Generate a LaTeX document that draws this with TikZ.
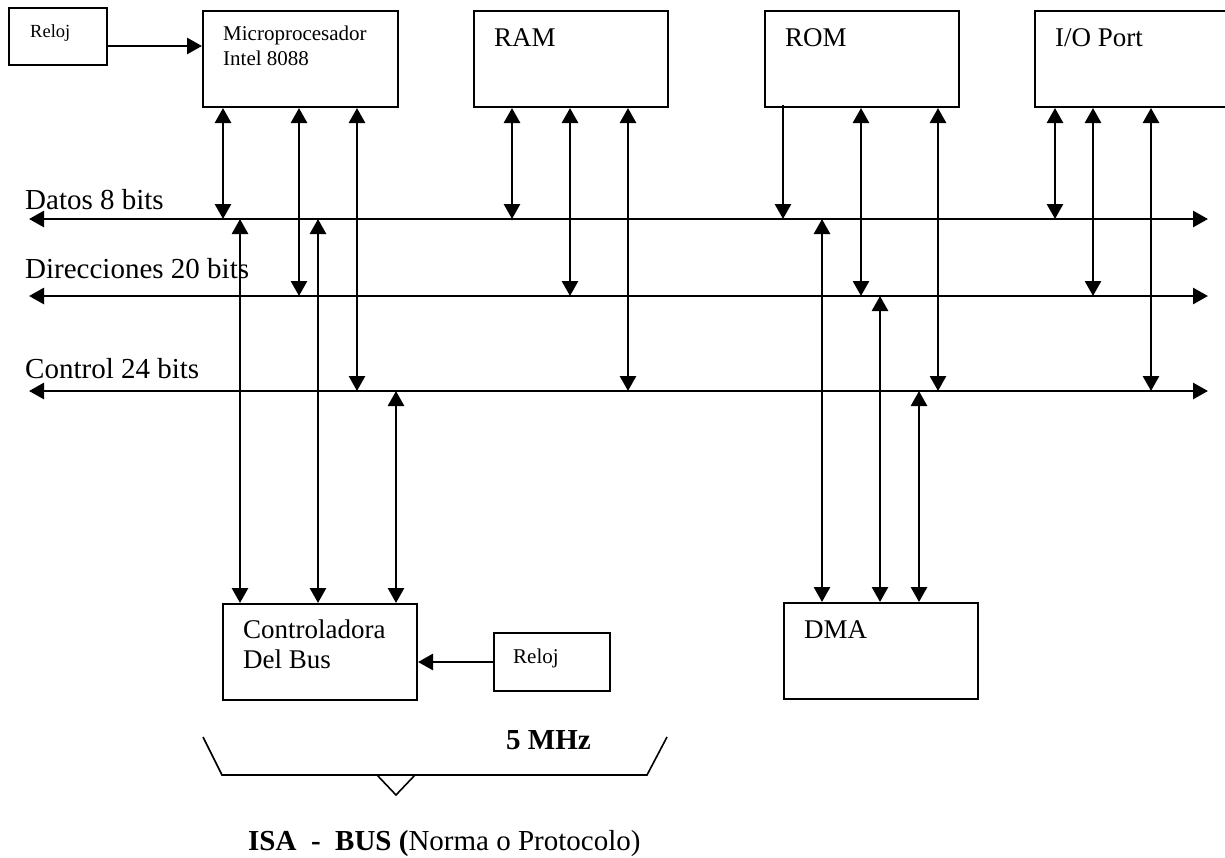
\documentclass[tikz,border=0pt]{standalone}
\usepackage{fontspec}
\setmainfont{Liberation Serif}
\usetikzlibrary{arrows.meta}
\begin{document}
\begin{tikzpicture}[x=1pt,y=-1pt,
  box/.style={draw, line width=2pt, inner sep=0pt, anchor=north west},
  tip/.tip={Triangle[width=16pt,length=15pt]},
  bi/.style={tip-tip, line width=2.8pt},
  one/.style={-tip, line width=2.8pt},
  txt/.style={anchor=base west, inner sep=0pt},
  big/.style={font=\fontsize{29}{32}\selectfont},
  mid/.style={font=\fontsize{27}{30}\selectfont},
  sml/.style={font=\fontsize{21}{24}\selectfont},
  tiny/.style={font=\fontsize{18.5}{21}\selectfont}]
\useasboundingbox (0,0) rectangle (1225,857);

% boxes
\node[box, minimum width=98pt, minimum height=57pt] (reloj1) at (8,7) {};
\node[box, minimum width=195pt, minimum height=96pt] (micro) at (202,10) {};
\node[box, minimum width=194pt, minimum height=96pt] (ram) at (473,10) {};
\node[box, minimum width=194pt, minimum height=96pt] (rom) at (764,10) {};
\node[box, minimum width=200pt, minimum height=96pt] (io) at (1034,10) {};
\node[box, minimum width=194pt, minimum height=96pt] (ctrl) at (222,603) {};
\node[box, minimum width=116pt, minimum height=58pt] (reloj2) at (493,632) {};
\node[box, minimum width=194pt, minimum height=96pt] (dma) at (783,602) {};

% box texts
\node[txt, tiny] (treloj1) at (30,37) {Reloj};
\node[txt, sml] (tmicroA) at (223,40) {Microprocesador};
\node[txt, sml] (tmicroB) at (223,65) {Intel 8088};
\node[txt, mid] (tram) at (494,46) {RAM};
\node[txt, mid] (trom) at (785,46) {ROM};
\node[txt, mid] (tio) at (1055,46) {I/O Port};
\node[txt, mid] (tctrlA) at (243,638) {Controladora};
\node[txt, mid] (tctrlB) at (243,668) {Del Bus};
\node[txt, sml] (treloj2) at (513,663) {Reloj};
\node[txt, mid] (tdma) at (804,638) {DMA};

% bus labels
\node[txt, big] (ldat) at (25,209) {Datos 8 bits};
\node[txt, big] (ldir) at (25,278) {Direcciones 20 bits};
\node[txt, big] (lctl) at (25,378) {Control 24 bits};

% buses
\coordinate (datL) at (29,219);  \coordinate (datR) at (1208,219);
\coordinate (dirL) at (29,296);  \coordinate (dirR) at (1208,296);
\coordinate (ctlL) at (29,391);  \coordinate (ctlR) at (1208,391);
\draw[bi] (datL) -- (datR);
\draw[bi] (dirL) -- (dirR);
\draw[bi] (ctlL) -- (ctlR);

% clock arrows
\coordinate (clk1) at (0,46);
\draw[one] (reloj1.east |- clk1) -- (micro.west |- clk1);
\draw[one] (reloj2.west) -- (ctrl.east |- reloj2.west);

% x positions
\coordinate (m1) at (223,0); \coordinate (m2) at (299,0); \coordinate (m3) at (357,0);
\coordinate (r1) at (512,0); \coordinate (r2) at (570,0); \coordinate (r3) at (628,0);
\coordinate (o1) at (783,0); \coordinate (o2) at (861,0); \coordinate (o3) at (938,0);
\coordinate (p1) at (1055,0); \coordinate (p2) at (1093,0); \coordinate (p3) at (1151,0);
\coordinate (c1) at (240,0); \coordinate (c2) at (318,0); \coordinate (c3) at (396,0);
\coordinate (d1) at (822,0); \coordinate (d2) at (880,0); \coordinate (d3) at (919,0);

% microprocessor
\draw[bi] (m1 |- micro.south) -- (m1 |- datL);
\draw[bi] (m2 |- micro.south) -- (m2 |- dirL);
\draw[bi] (m3 |- micro.south) -- (m3 |- ctlL);
% RAM
\draw[bi] (r1 |- ram.south) -- (r1 |- datL);
\draw[bi] (r2 |- ram.south) -- (r2 |- dirL);
\draw[bi] (r3 |- ram.south) -- (r3 |- ctlL);
% ROM
\draw[one] ([yshift=3pt]o1 |- rom.south) -- (o1 |- datL);
\draw[bi] (o2 |- rom.south) -- (o2 |- dirL);
\draw[bi] (o3 |- rom.south) -- (o3 |- ctlL);
% I/O
\draw[bi] (p1 |- io.south) -- (p1 |- datL);
\draw[bi] (p2 |- io.south) -- (p2 |- dirL);
\draw[bi] (p3 |- io.south) -- (p3 |- ctlL);
% bus controller
\draw[bi] (c1 |- datL) -- (c1 |- ctrl.north);
\draw[bi] (c2 |- datL) -- (c2 |- ctrl.north);
\draw[bi] (c3 |- ctlL) -- (c3 |- ctrl.north);
% DMA
\draw[bi] (d1 |- datL) -- (d1 |- dma.north);
\draw[bi] (d2 |- dirL) -- (d2 |- dma.north);
\draw[bi] (d3 |- ctlL) -- (d3 |- dma.north);

% brace
\draw[line width=1.6pt] (203,737) -- (222,775) -- (647,775) -- (667,737);
\draw[line width=1.6pt] (377,775) -- (396,795) -- (415,775);

\node[txt, big] (mhz) at (506,749) {\textbf{5 MHz}};
\node[txt, big] (isa) at (248,850) {\textbf{ISA\ \ -\ \ BUS (}Norma o Protocolo)};
\end{tikzpicture}
\end{document}
